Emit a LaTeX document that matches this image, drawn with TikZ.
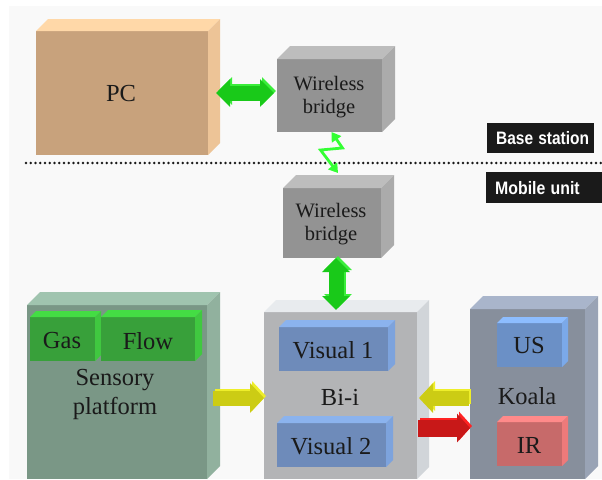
\documentclass[tikz,border=0pt]{standalone}
\usepackage{fontspec}
\setmainfont{Liberation Serif}
\newfontfamily\badgefont{Liberation Sans}
\usetikzlibrary{arrows.meta,calc}
\definecolor{bg}{HTML}{F9F9F9}
\definecolor{txt}{HTML}{1A1A1A}
\definecolor{pcF}{HTML}{C8A27C}\definecolor{pcT}{HTML}{FFD8A8}\definecolor{pcS}{HTML}{EDC497}
\definecolor{brF}{HTML}{939393}\definecolor{brT}{HTML}{BDBDBD}\definecolor{brS}{HTML}{ABABAB}
\definecolor{seF}{HTML}{7A9786}\definecolor{seT}{HTML}{A0C4AF}\definecolor{seS}{HTML}{91B19E}
\definecolor{gnF}{HTML}{38A03A}\definecolor{gnT}{HTML}{44DD44}\definecolor{gnS}{HTML}{40C840}
\definecolor{biF}{HTML}{B3B4B6}\definecolor{biT}{HTML}{E8EBEE}\definecolor{biS}{HTML}{D1D5D9}
\definecolor{viF}{HTML}{6E8BBA}\definecolor{viT}{HTML}{8BB3EE}\definecolor{viS}{HTML}{7DA3DD}
\definecolor{koF}{HTML}{878F9C}\definecolor{koT}{HTML}{A9B5CB}\definecolor{koS}{HTML}{99A3B5}
\definecolor{usF}{HTML}{6B90C6}\definecolor{usT}{HTML}{8DBDFF}\definecolor{usS}{HTML}{7BA9E9}
\definecolor{irF}{HTML}{C76A6A}\definecolor{irT}{HTML}{FF8A8A}\definecolor{irS}{HTML}{EE7A7A}
\definecolor{grMain}{HTML}{19C919}\definecolor{grLight}{HTML}{3AEE3A}
\definecolor{yeMain}{HTML}{CCCC14}\definecolor{yeLight}{HTML}{EEEE2A}
\definecolor{reMain}{HTML}{C81818}\definecolor{reLight}{HTML}{FF2222}
\definecolor{boltc}{HTML}{33FF33}
\definecolor{badgebg}{HTML}{1A1A1A}
% name, x1, y1, x2, y2, depth, colour prefix
\newcommand{\cuboid}[7]{%
  \node[fill=#7F, inner sep=0pt, outer sep=0pt, minimum width={(#4-#2)*1pt}, minimum height={(#5-#3)*1pt}, anchor=north west] (#1) at (#2,#3) {};
  \fill[#7T] (#1.north west) -- ++(#6pt,#6pt) -- ([shift={(#6pt,#6pt)}]#1.north east) -- (#1.north east) -- cycle;
  \fill[#7S] (#1.north east) -- ++(#6pt,#6pt) -- ([shift={(#6pt,#6pt)}]#1.south east) -- (#1.south east) -- cycle;
}
% style, light colour, main colour, path
\newcommand{\fatarrow}[4]{%
  \draw[#1, draw=#2, transform canvas={shift={(2pt,2pt)}}] #4;
  \draw[#1, draw=#3] #4;
}
\begin{document}
\begin{tikzpicture}[x=1pt,y=-1pt,
  lbl/.style={font=\fontsize{24.5}{29}\selectfont, text=txt, inner sep=0pt, align=center},
  brl/.style={font=\fontsize{20.5}{23}\selectfont, text=txt, inner sep=0pt, align=center},
  badge/.style={fill=badgebg, text=white, font=\badgefont\bfseries\fontsize{18}{18}\selectfont, anchor=north west, inner xsep=9pt, inner ysep=0pt, align=left},
  dotline/.style={line width=2.7pt, dash pattern=on 0pt off 4.75pt, line cap=round, draw=black!90},
  bolt/.style={draw=boltc, line width=2.8pt, line join=miter, {Triangle[width=11pt,length=9pt]}-{Triangle[width=11pt,length=9pt]}},
  dblg/.style={line width=15pt, {Triangle[width=27pt,length=14pt]}-{Triangle[width=27pt,length=14pt]}},
  yel/.style={line width=15pt, -{Triangle[width=29pt,length=14pt]}},
  redarr/.style={line width=17pt, -{Triangle[width=28pt,length=13pt]}}
]
\useasboundingbox (0,0) rectangle (602,479);
\fill[bg] (9,6) rectangle (602,479);

% separator and badges
\coordinate (dl) at (26,163);
\coordinate (dr) at (603,163);
\draw[dotline] (dl) -- (dr);
\node[badge, minimum width=107pt, minimum height=30pt, text width=89pt] (bs) at (487,123) {\scalebox{0.86}[1]{Base station}};
\node[badge, minimum width=116pt, minimum height=31pt, text width=98pt] (mu) at (486,172) {\scalebox{0.88}[1]{Mobile unit}};

% boxes
\cuboid{pc}{36}{31}{208}{155}{12}{pc}
\node[lbl] (pcl) at (121,94) {PC};
\cuboid{br1}{277}{59}{382}{132}{13}{br}
\node[brl] (br1l) at (329,97) {Wireless\\bridge};
\cuboid{br2}{283}{188}{381}{258}{13}{br}
\node[brl] (br2l) at (331,224) {Wireless\\bridge};

\cuboid{sens}{27}{305}{207}{479}{13}{se}
\cuboid{gas}{30}{317}{95}{361}{6}{gn}
\cuboid{flow}{101}{317}{195}{361}{7}{gn}
\node[lbl] (gasl) at (62,341) {Gas};
\node[lbl] (flowl) at (148,341) {Flow};
\node[lbl] (sensl) at (115,394) {Sensory\\platform};

\cuboid{bii}{264}{312}{417}{479}{12}{bi}
\cuboid{vis1}{279}{327}{388}{371}{7}{vi}
\cuboid{vis2}{277}{423}{386}{467}{7}{vi}
\node[lbl] (vis1l) at (333,350) {Visual 1};
\node[lbl] (vis2l) at (331,446) {Visual 2};
\node[lbl] (biil) at (340,397) {Bi-i};

\cuboid{koala}{470}{309}{585}{479}{13}{ko}
\cuboid{us}{497}{323}{562}{367}{6}{us}
\cuboid{ir}{497}{422}{562}{466}{6}{ir}
\node[lbl] (usl) at (529,346) {US};
\node[lbl] (irl) at (529,445) {IR};
\node[lbl] (koalal) at (527,396) {Koala};

% connectors
\fatarrow{dblg}{grLight}{grMain}{([xshift=8pt]pc.east) -- ($(br1.west |- pc.east)+(-3,0)$)}
\draw[bolt] ([xshift=2pt]br1.south) -- ++(11,16) -- ++(-22,2) -- ([shift={(6pt,15pt)}]br2.north);
\fatarrow{dblg}{grLight}{grMain}{([xshift=4pt]br2.south) -- ($(br2.south |- bii.north)+(4,-2)$)}
\fatarrow{yel}{yeLight}{yeMain}{($(sens.east)+(6,6)$) -- ($(bii.west |- sens.east)+(0,6)$)}
\fatarrow{yel}{yeLight}{yeMain}{($(koala.west)+(-1,4)$) -- ($(bii.east |- koala.west)+(2,4)$)}
\fatarrow{redarr}{reLight}{reMain}{($(bii.east |- koala.west)+(1,34)$) -- ($(koala.west)+(0,34)$)}
\end{tikzpicture}
\end{document}
